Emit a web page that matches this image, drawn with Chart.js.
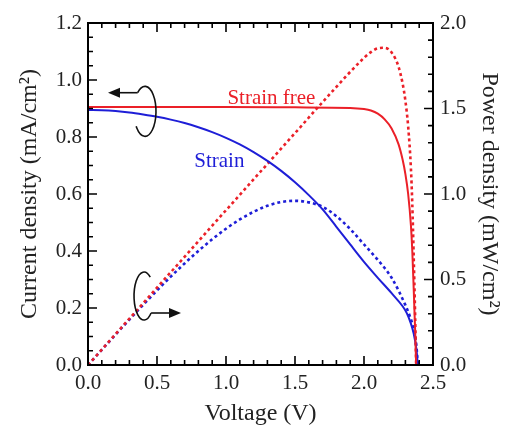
<!DOCTYPE html>
<html>
<head>
<meta charset="utf-8">
<script src="https://cdn.jsdelivr.net/npm/chart.js@4.4.1/dist/chart.umd.min.js"></script>
<style>
  html, body { margin: 0; padding: 0; background: #fff; }
  #wrap { width: 514px; height: 432px; }
</style>
</head>
<body>
<div id="wrap"><canvas id="c" width="514" height="432"></canvas></div>
<script>
// current density, strain free (V, mA/cm2)
const vJFree = [0, 0.5, 1.0, 1.5, 1.9, 2.0, 2.05, 2.1, 2.15, 2.2, 2.25, 2.28, 2.3, 2.32, 2.34, 2.35, 2.36, 2.37, 2.378]
const jFree = [0.905, 0.905, 0.905, 0.904, 0.902, 0.898, 0.893, 0.882, 0.862, 0.83, 0.775, 0.72, 0.67, 0.60, 0.49, 0.40, 0.27, 0.13, 0]

// power density, strain free (V, mW/cm2)
const vPFree = [0, 0.5, 1.0, 1.5, 1.75, 2.0, 2.05, 2.1, 2.15, 2.2, 2.25, 2.28, 2.3, 2.32, 2.34, 2.35, 2.36, 2.37, 2.378]
const pFree = [0, 0.452, 0.905, 1.356, 1.582, 1.796, 1.83, 1.852, 1.855, 1.828, 1.745, 1.645, 1.545, 1.395, 1.15, 0.94, 0.64, 0.31, 0]

// strained device, current density
const vJStrain = [0, 0.1, 0.2, 0.3, 0.4, 0.5, 0.6, 0.7, 0.8, 0.9, 1.0, 1.1, 1.2, 1.3, 1.4, 1.5, 1.6, 1.7, 1.8, 1.9, 2.0, 2.1, 2.2, 2.28, 2.31, 2.34, 2.36, 2.38, 2.39]
const jStrain = [0.895, 0.894, 0.891, 0.886, 0.879, 0.871, 0.861, 0.849, 0.834, 0.817, 0.797, 0.774, 0.747, 0.716, 0.681, 0.641, 0.596, 0.546, 0.485, 0.423, 0.362, 0.306, 0.252, 0.206, 0.182, 0.145, 0.11, 0.055, 0]

// strained device, power density
const vPStrain = [0, 0.1, 0.2, 0.3, 0.4, 0.5, 0.6, 0.7, 0.8, 0.9, 1.0, 1.1, 1.2, 1.3, 1.4, 1.5, 1.6, 1.7, 1.8, 1.9, 2.0, 2.1, 2.2, 2.3, 2.33, 2.36, 2.38, 2.39]
const pStrain = [0, 0.089, 0.178, 0.266, 0.352, 0.436, 0.517, 0.594, 0.667, 0.735, 0.797, 0.851, 0.896, 0.931, 0.953, 0.96, 0.951, 0.925, 0.87, 0.795, 0.705, 0.615, 0.51, 0.35, 0.29, 0.21, 0.11, 0]

const RED = 'rgb(235, 32, 40)'
const BLUE = 'rgb(30, 30, 215)'
const SERIF = '"Liberation Serif", "DejaVu Serif", serif'

function pts (xs, ys) {
  return xs.map((x, i) => ({ x, y: ys[i] }))
}

// frame + inward ticks, labels and the rotation arrows
const decor = {
  id: 'decor',
  afterDraw (chart) {
    const { ctx, chartArea: a } = chart
    const x = chart.scales.x
    const y = chart.scales.y
    const y2 = chart.scales.y2
    ctx.save()
    ctx.strokeStyle = '#000'
    ctx.lineWidth = 1.6
    ctx.beginPath()
    for (let i = 0; i <= 25; i++) {
      const len = i % 5 === 0 ? 9 : 5
      const px = x.getPixelForValue(i / 10)
      ctx.moveTo(px, a.bottom); ctx.lineTo(px, a.bottom - len)
      ctx.moveTo(px, a.top); ctx.lineTo(px, a.top + len)
    }
    for (let i = 0; i <= 24; i++) {
      const len = i % 4 === 0 ? 9 : 5
      const py = y.getPixelForValue(i * 0.05)
      ctx.moveTo(a.left, py); ctx.lineTo(a.left + len, py)
    }
    for (let i = 0; i <= 20; i++) {
      const len = i % 5 === 0 ? 9 : 5
      const py = y2.getPixelForValue(i / 10)
      ctx.moveTo(a.right, py); ctx.lineTo(a.right - len, py)
    }
    ctx.stroke()
    ctx.lineWidth = 2
    ctx.strokeRect(a.left, a.top, a.right - a.left, a.bottom - a.top)

    // curve labels
    ctx.font = '21px ' + SERIF
    ctx.textBaseline = 'alphabetic'
    ctx.fillStyle = RED
    ctx.fillText('Strain free', x.getPixelForValue(1.01), y.getPixelForValue(0.916))
    ctx.fillStyle = BLUE
    ctx.fillText('Strain', x.getPixelForValue(0.77), y.getPixelForValue(0.695))

    // rotation arrows
    ctx.strokeStyle = '#111'
    ctx.fillStyle = '#111'
    ctx.lineWidth = 1.6
    const arrow = (x0, yy, x1) => {
      const dir = Math.sign(x1 - x0)
      ctx.beginPath()
      ctx.moveTo(x0, yy); ctx.lineTo(x1 - dir * 10, yy)
      ctx.stroke()
      ctx.beginPath()
      ctx.moveTo(x1, yy)
      ctx.lineTo(x1 - dir * 12, yy - 5)
      ctx.lineTo(x1 - dir * 12, yy + 5)
      ctx.closePath()
      ctx.fill()
    }
    let cx = x.getPixelForValue(0.413)
    let cy = y.getPixelForValue(0.89)
    ctx.beginPath()
    ctx.ellipse(cx, cy, 11, 25, 0, -2.3, 2.5)
    ctx.stroke()
    arrow(cx + 11 * Math.cos(-2.3), cy + 25 * Math.sin(-2.3), x.getPixelForValue(0.145))

    cx = x.getPixelForValue(0.406)
    cy = y.getPixelForValue(0.242)
    ctx.beginPath()
    ctx.ellipse(cx, cy, 10, 24, 0, -0.9, Math.PI / 4, true)
    ctx.stroke()
    arrow(cx + 10 * Math.cos(Math.PI / 4), cy + 24 * Math.sin(Math.PI / 4), x.getPixelForValue(0.674))
    ctx.restore()
  }
}

const tickFont = { family: SERIF, size: 21 }
const titleFont = { family: SERIF, size: 24 }

new Chart(document.getElementById('c'), {
  type: 'line',
  data: {
    datasets: [
      { label: 'J strain free', data: pts(vJFree, jFree), yAxisID: 'y', borderColor: RED, borderWidth: 2 },
      { label: 'J strain', data: pts(vJStrain, jStrain), yAxisID: 'y', borderColor: BLUE, borderWidth: 2 },
      { label: 'P strain free', data: pts(vPFree, pFree), yAxisID: 'y2', borderColor: RED, borderWidth: 2.6, borderDash: [3, 3] },
      { label: 'P strain', data: pts(vPStrain, pStrain), yAxisID: 'y2', borderColor: BLUE, borderWidth: 2.6, borderDash: [3, 3] }
    ]
  },
  options: {
    responsive: false,
    animation: false,
    layout: { padding: { top: 23, left: 0, right: 0, bottom: 0 } },
    elements: {
      point: { radius: 0 },
      line: { cubicInterpolationMode: 'monotone' }
    },
    plugins: { legend: { display: false }, tooltip: { enabled: false } },
    scales: {
      x: {
        type: 'linear',
        min: 0,
        max: 2.5,
        grid: { display: false, drawTicks: false },
        border: { display: false },
        ticks: { stepSize: 0.5, padding: 6, color: '#222', font: tickFont, callback: v => v.toFixed(1), maxRotation: 0 },
        title: { display: true, text: 'Voltage (V)', color: '#222', font: titleFont, padding: { top: 4, bottom: 4 } },
        afterFit: s => { s.height = 67 }
      },
      y: {
        position: 'left',
        min: 0,
        max: 1.2,
        grid: { display: false, drawTicks: false },
        border: { display: false },
        ticks: { stepSize: 0.2, padding: 6, color: '#222', font: tickFont, callback: v => v.toFixed(1) },
        title: { display: true, text: 'Current density (mA/cm²)', color: '#222', font: titleFont, padding: { top: 15, bottom: 0 } },
        afterFit: s => { s.width = 88 }
      },
      y2: {
        position: 'right',
        min: 0,
        max: 2.0,
        grid: { display: false, drawTicks: false },
        border: { display: false },
        ticks: { stepSize: 0.5, padding: 7, color: '#222', font: tickFont, callback: v => v.toFixed(1) },
        title: { display: true, text: 'Power density (mW/cm²)', color: '#222', font: titleFont, padding: { top: 10, bottom: 0 } },
        afterFit: s => { s.width = 81 }
      }
    }
  },
  plugins: [decor]
})
</script>
</body>
</html>
